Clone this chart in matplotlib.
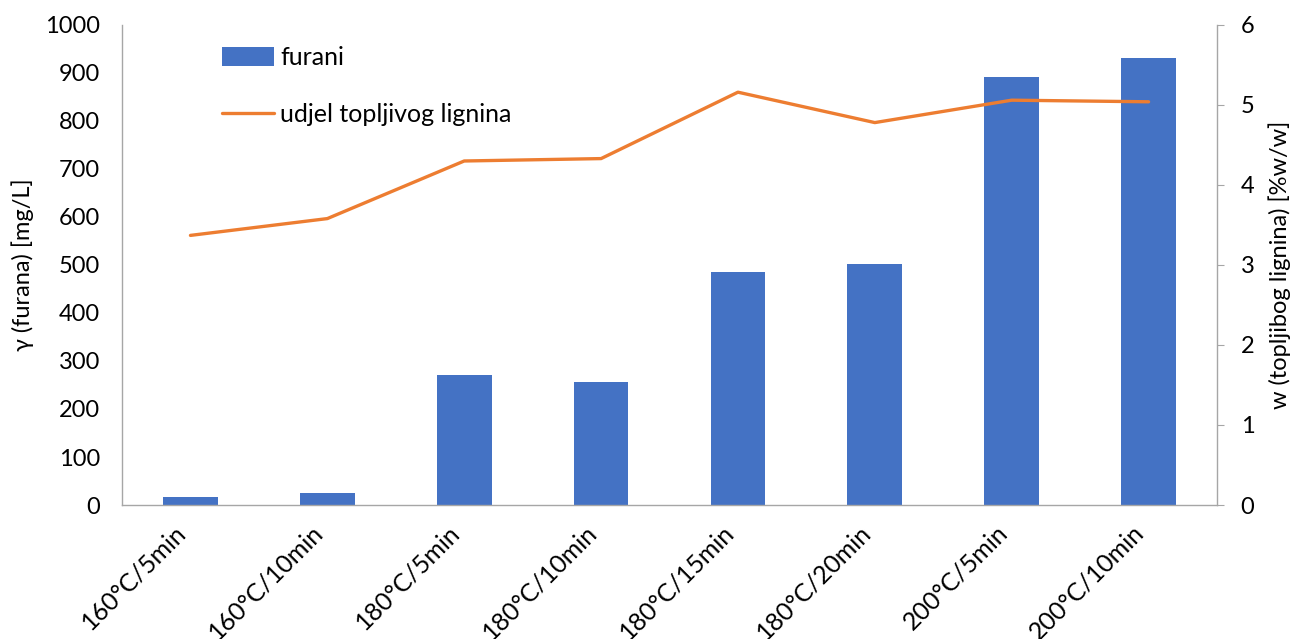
import matplotlib
matplotlib.use("Agg")
import matplotlib.pyplot as plt
import numpy as np

# ── Data ─────────────────────────────────────────────────────────────────────
categories = ["160°C/5min", "160°C/10min", "180°C/5min", "180°C/10min",
              "180°C/15min", "180°C/20min", "200°C/5min", "200°C/10min"]
furani = [17, 25, 271, 256, 485, 502, 892, 931]          # mg/L
lignin = [3.37, 3.58, 4.30, 4.33, 5.16, 4.78, 5.06, 5.04]  # %w/w

BLUE = "#4472C4"
ORANGE = "#ED7D31"
GREY = "#A6A6A6"

plt.rcParams.update({
    "font.family": ["Lato", "DejaVu Sans"],
    "font.size": 17,
})

fig = plt.figure(figsize=(12.94, 6.39), dpi=100)
ax = fig.add_axes([0.0943, 0.2097, 0.8462, 0.7512])
ax2 = ax.twinx()

x = np.arange(len(categories))
bars = ax.bar(x, furani, width=0.4, color=BLUE, label="furani", zorder=2)
line, = ax2.plot(x, lignin, color=ORANGE, linewidth=2.4,
                 label="udjel topljivog lignina", solid_capstyle="round")

ax.set_xlim(-0.5, len(categories) - 0.5)
ax.set_ylim(0, 1000)
ax.set_yticks(np.arange(0, 1001, 100))
ax2.set_ylim(0, 6)
ax2.set_yticks(np.arange(0, 7, 1))

ax.set_xticks(x)
ax.set_xticklabels(categories, rotation=45, ha="right", va="bottom",
                   rotation_mode="anchor", fontsize=18)
ax.tick_params(axis="x", length=0, pad=23)
ax.tick_params(axis="y", length=0, pad=16, labelsize=17)
ax2.tick_params(axis="y", length=5, color=GREY, pad=12, labelsize=17)

for a in (ax, ax2):
    a.spines["top"].set_visible(False)
    for s in ("left", "right", "bottom"):
        a.spines[s].set_color(GREY)
        a.spines[s].set_linewidth(1.0)
ax.spines["right"].set_visible(False)
ax2.spines["left"].set_visible(False)
ax2.spines["bottom"].set_visible(False)

ax.set_ylabel("γ (furana) [mg/L]", fontsize=17, labelpad=8)
ax2.set_ylabel("w (topljibog lignina) [%w/w]", fontsize=17, labelpad=10)

fig.legend([bars, line], ["furani", "udjel topljivog lignina"],
           loc="upper left", bbox_to_anchor=(0.1635, 0.943), frameon=False,
           fontsize=18, labelspacing=1.35, handlelength=2.1,
           handleheight=0.8, handletextpad=0.25, borderaxespad=0)

fig.savefig("out.png", dpi=100, facecolor="white")
